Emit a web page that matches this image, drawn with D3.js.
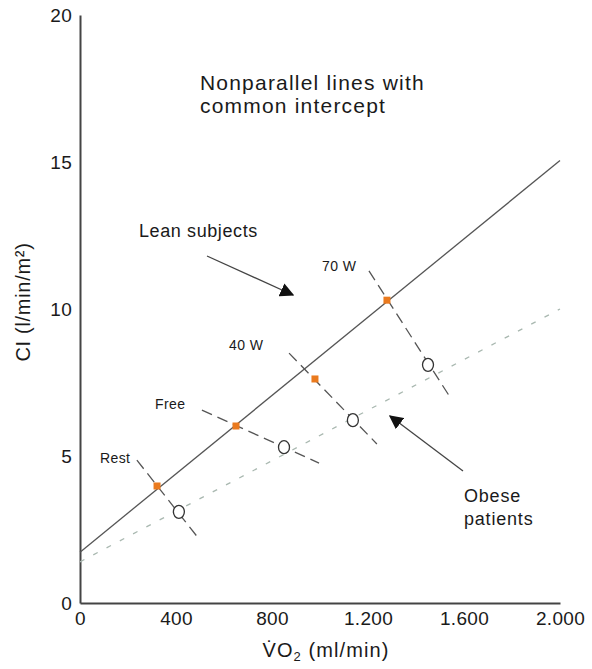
<!DOCTYPE html>
<html><head><meta charset="utf-8">
<script src="https://cdn.jsdelivr.net/npm/d3@7"></script>
<style>body{margin:0;background:#fff}svg{display:block}text{font-family:"Liberation Sans",Arial,sans-serif;fill:#1a1a1a}</style>
</head><body>
<script>
const conditions = ["Rest", "Free", "40 W", "70 W"];
const leanVO2 = [321, 650, 979, 1279];
const leanCI = [3.98, 6.02, 7.62, 10.3];
const obeseVO2 = [412, 850, 1137, 1450];
const obeseCI = [3.1, 5.3, 6.22, 8.1];
// dashed connector segments (start / end, in data units)
const segStartVO2 = [237, 508, 871, 1204];
const segStartCI = [4.86, 6.56, 8.5, 11.3];
const segEndVO2 = [487, 996, 1237, 1542];
const segEndCI = [2.27, 4.76, 5.41, 7.0];
// regression lines
const leanLine = [[0, 1.73], [2000, 15.05]];
const obeseLine = [[0, 1.4], [2000, 10.0]];
const xTicks = [0, 400, 800, 1200, 1600, 2000];
const xTickLabels = ["0", "400", "800", "1.200", "1.600", "2.000"];
const yTicks = [0, 5, 10, 15, 20];

const W = 592, H = 669;
const FONT = '"Liberation Sans",Arial,sans-serif';
const svg = d3.select("body").append("svg").attr("width", W).attr("height", H);
const x = d3.scaleLinear().domain([0, 2000]).range([80, 560]);
const y = d3.scaleLinear().domain([0, 20]).range([603, 15]);

const axisColor = "#444";
// axes
const xAxis = d3.axisBottom(x).tickValues(xTicks).tickFormat((d, i) => xTickLabels[i]).tickSize(0).tickPadding(8.5);
const gx = svg.append("g").attr("transform", `translate(0,${y(0)})`).call(xAxis);
gx.select(".domain").attr("stroke", axisColor).attr("stroke-width", 2);
gx.selectAll("text").attr("font-size", 19).attr("letter-spacing", 0.3).attr("fill", "#1a1a1a").attr("font-family", FONT);

const yAxis = d3.axisLeft(y).tickValues(yTicks).tickSize(0).tickPadding(8);
const gy = svg.append("g").attr("transform", `translate(${x(0)},0)`).call(yAxis);
gy.select(".domain").attr("stroke", axisColor).attr("stroke-width", 2);
gy.selectAll("text").attr("font-size", 19).attr("letter-spacing", 0.3).attr("fill", "#1a1a1a").attr("font-family", FONT);

const line = d3.line().x(d => x(d[0])).y(d => y(d[1]));
svg.append("path").attr("d", line(obeseLine)).attr("stroke", "#a9b8b0").attr("stroke-width", 1.3)
  .attr("stroke-dasharray", "5,10").attr("fill", "none");
svg.append("path").attr("d", line(leanLine)).attr("stroke", "#555").attr("stroke-width", 1.3).attr("fill", "none");

// connector dashed lines
conditions.forEach((c, i) => {
  svg.append("line")
    .attr("x1", x(segStartVO2[i])).attr("y1", y(segStartCI[i]))
    .attr("x2", x(segEndVO2[i])).attr("y2", y(segEndCI[i]))
    .attr("stroke", "#555").attr("stroke-width", 1.3).attr("stroke-dasharray", "11,6");
});

// points
svg.selectAll("rect.lean").data(conditions).enter().append("rect")
  .attr("x", (d, i) => x(leanVO2[i]) - 3.5).attr("y", (d, i) => y(leanCI[i]) - 3.5)
  .attr("width", 7).attr("height", 7).attr("fill", "#ea7a1e");
svg.selectAll("ellipse.obese").data(conditions).enter().append("ellipse")
  .attr("cx", (d, i) => x(obeseVO2[i])).attr("cy", (d, i) => y(obeseCI[i]))
  .attr("rx", 5.5).attr("ry", 6.5).attr("fill", "#fff").attr("stroke", "#333").attr("stroke-width", 1.3);

// condition labels
const labelPos = [[100, 463], [155, 409], [229, 350], [322, 271]];
conditions.forEach((c, i) => {
  svg.append("text").attr("x", labelPos[i][0]).attr("y", labelPos[i][1]).attr("font-size", 14)
    .attr("letter-spacing", 0.4).text(c);
});

// title
svg.append("text").attr("x", 200).attr("y", 90).attr("font-size", 21).attr("letter-spacing", 1.2).text("Nonparallel lines with");
svg.append("text").attr("x", 200).attr("y", 113).attr("font-size", 21).attr("letter-spacing", 1.2).text("common intercept");

// annotations
svg.append("text").attr("x", 139).attr("y", 237).attr("font-size", 18).attr("letter-spacing", 0.6).text("Lean subjects");
svg.append("text").attr("x", 464).attr("y", 502).attr("font-size", 18).attr("letter-spacing", 0.8).text("Obese");
svg.append("text").attr("x", 464).attr("y", 525).attr("font-size", 18).attr("letter-spacing", 0.8).text("patients");

const defs = svg.append("defs");
defs.append("marker").attr("id", "ah").attr("viewBox", "0 0 10 10").attr("refX", 9).attr("refY", 5)
  .attr("markerWidth", 14).attr("markerHeight", 14).attr("markerUnits", "userSpaceOnUse").attr("orient", "auto")
  .append("path").attr("d", "M0,0 L10,5 L0,10 Z").attr("fill", "#111");
svg.append("line").attr("x1", 207).attr("y1", 256).attr("x2", 293).attr("y2", 295)
  .attr("stroke", "#444").attr("stroke-width", 1.3).attr("marker-end", "url(#ah)");
svg.append("line").attr("x1", 463).attr("y1", 471).attr("x2", 390).attr("y2", 416)
  .attr("stroke", "#444").attr("stroke-width", 1.3).attr("marker-end", "url(#ah)");

// axis titles
svg.append("text").attr("transform", "translate(30,302) rotate(-90)").attr("text-anchor", "middle")
  .attr("font-size", 20).attr("letter-spacing", 0.7).text("CI (l/min/m²)");
const xl = svg.append("text").attr("x", 326).attr("y", 657).attr("text-anchor", "middle")
  .attr("font-size", 20).attr("letter-spacing", 1.1);
xl.append("tspan").text("V\u0307O");
xl.append("tspan").attr("font-size", 13).attr("dy", 4).text("2");
xl.append("tspan").attr("dy", -4).text(" (ml/min)");
</script>
</body></html>
